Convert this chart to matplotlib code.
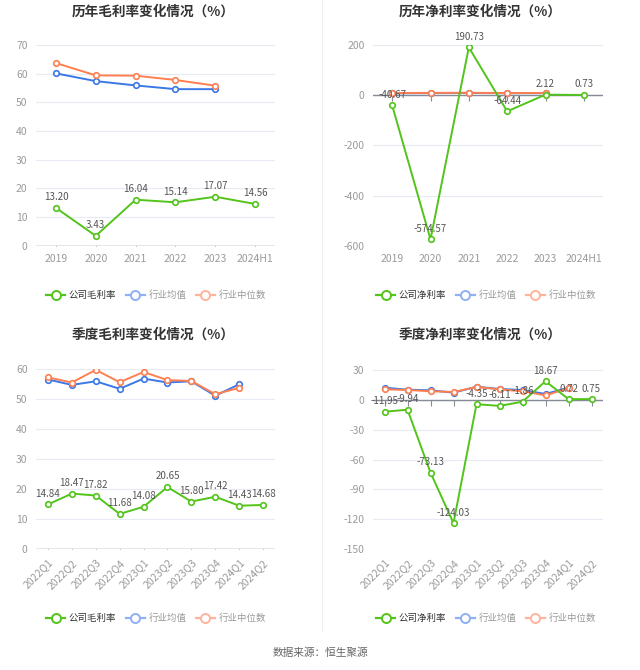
import matplotlib
matplotlib.use("Agg")
import matplotlib.pyplot as plt
from matplotlib.lines import Line2D
import numpy as np

plt.rcParams['font.family'] = ['Noto Sans CJK SC', 'DejaVu Sans']
plt.rcParams['axes.unicode_minus'] = False

# annual data
years = ['2019', '2020', '2021', '2022', '2023', '2024H1']
gross_company = [13.20, 3.43, 16.04, 15.14, 17.07, 14.56]
gross_mean = [60.1, 57.4, 55.9, 54.6, 54.6]
gross_median = [63.7, 59.4, 59.3, 57.8, 55.8]
net_company = [-40.67, -574.57, 190.73, -64.44, 2.12, 0.73]
net_mean = [7.5, 8.3, 9.0, 7.9, 8.2]
net_median = [8.8, 9.1, 9.6, 8.5, 8.9]

# quarterly data
quarters = ['2022Q1', '2022Q2', '2022Q3', '2022Q4', '2023Q1', '2023Q2',
            '2023Q3', '2023Q4', '2024Q1', '2024Q2']
q_gross_company = [14.84, 18.47, 17.82, 11.68, 14.08, 20.65, 15.80, 17.42, 14.43, 14.68]
q_gross_mean = [56.5, 54.7, 55.9, 53.4, 56.8, 55.5, 55.9, 51.1, 54.9]
q_gross_median = [57.2, 55.5, 59.7, 55.6, 59.0, 56.3, 56.0, 51.6, 53.7]
q_net_company = [-11.95, -9.94, -73.13, -124.03, -4.35, -6.11, -1.86, 18.67, 0.72, 0.75]
q_net_mean = [12.2, 10.2, 9.6, 7.2, 13.2, 10.9, 9.9, 5.9, 12.2]
q_net_median = [10.6, 9.9, 8.6, 7.9, 12.9, 10.6, 8.6, 4.5, 11.6]

GREEN = '#52c41a'
BLUE = '#3b78e7'
ORANGE = '#ff7f50'
GRID = '#e6eaf2'
AXIS = '#868b95'
TICK = '#9a9a9a'

W, H = 640, 670
fig = plt.figure(figsize=(W / 100, H / 100), dpi=100)


def px_axes(x0, x1, y0, y1):
    return fig.add_axes([x0 / W, 1 - y1 / H, (x1 - x0) / W, (y1 - y0) / H])


def draw_panel(ax, cats, company, mean, median, yticks, rotate):
    x = np.arange(len(cats))
    ax.set_xlim(-0.5, len(cats) - 0.5)
    ax.set_ylim(yticks[0], yticks[-1])
    ax.set_yticks(yticks)
    ax.set_yticklabels([str(t) for t in yticks])
    for t in yticks:
        ax.axhline(t, color=GRID, lw=0.8, zorder=0)
    for s in ax.spines.values():
        s.set_visible(False)
    ax.tick_params(axis='y', length=0, labelsize=7.5, labelcolor=TICK, pad=6)
    ax.tick_params(axis='x', length=0, labelsize=7.5, labelcolor=TICK, pad=6)
    ax.set_xticks(x)
    if rotate:
        ax.set_xticklabels(cats, rotation=45, ha='right', rotation_mode='anchor')
    else:
        ax.set_xticklabels(cats)
    # category axis sits on zero
    ax.axhline(0, color=AXIS, lw=1, zorder=1)
    ax.plot(x, [0] * len(x), ls='none', marker=3, ms=4, mew=0.8, color=AXIS, zorder=1)

    mk = dict(marker='o', ms=4, mfc='white', mew=1.2)
    ax.plot(x[:len(mean)], mean, color=BLUE, lw=1.4, mec=BLUE, zorder=3, **mk)
    ax.plot(x[:len(median)], median, color=ORANGE, lw=1.4, mec=ORANGE, zorder=4, **mk)
    ax.plot(x, company, color=GREEN, lw=1.4, mec=GREEN, zorder=5, **mk)
    for xi, v in zip(x, company):
        ax.annotate(f'{v:.2f}', (xi, v), xytext=(0, 4), textcoords='offset points',
                    ha='center', va='bottom', fontsize=7, color='#555555', zorder=6)


def draw_legend(cx, cy, first):
    handles = [
        Line2D([], [], color=GREEN, lw=1.6, marker='o', ms=6.5, mfc='white', mec=GREEN, mew=1.4),
        Line2D([], [], color='#8fb0f2', lw=1.6, marker='o', ms=6.5, mfc='white', mec='#8fb0f2', mew=1.4),
        Line2D([], [], color='#ffb49c', lw=1.6, marker='o', ms=6.5, mfc='white', mec='#ffb49c', mew=1.4),
    ]
    leg = fig.legend(handles, [first, '行业均值', '行业中位数'], loc='center',
                     bbox_to_anchor=(cx / W, 1 - cy / H), ncol=3, frameon=False,
                     fontsize=6.8, handlelength=2.0, columnspacing=1.0, handletextpad=0.4)
    for i, t in enumerate(leg.get_texts()):
        t.set_color('#333333' if i == 0 else '#999999')


ax1 = px_axes(36, 275, 45, 245.7)
draw_panel(ax1, years, gross_company, gross_mean, gross_median,
           [0, 10, 20, 30, 40, 50, 60, 70], False)
ax2 = px_axes(373, 603, 45, 245.7)
draw_panel(ax2, years, net_company, net_mean, net_median,
           [-600, -400, -200, 0, 200], False)
ax3 = px_axes(36, 275, 369, 549)
draw_panel(ax3, quarters, q_gross_company, q_gross_mean, q_gross_median,
           [0, 10, 20, 30, 40, 50, 60], True)
ax4 = px_axes(373, 603, 370, 549)
draw_panel(ax4, quarters, q_net_company, q_net_mean, q_net_median,
           [-150, -120, -90, -60, -30, 0, 30], True)

tkw = dict(ha='center', va='center', fontsize=9.8, fontweight='bold', color='#333333')
fig.text(153 / W, 1 - 12 / H, '历年毛利率变化情况（%）', **tkw)
fig.text(480 / W, 1 - 12 / H, '历年净利率变化情况（%）', **tkw)
fig.text(153 / W, 1 - 335 / H, '季度毛利率变化情况（%）', **tkw)
fig.text(480 / W, 1 - 335 / H, '季度净利率变化情况（%）', **tkw)

draw_legend(156, 295, '公司毛利率')
draw_legend(486, 295, '公司净利率')
draw_legend(156, 618, '公司毛利率')
draw_legend(486, 618, '公司净利率')

fig.add_artist(Line2D([322 / W, 322 / W], [1 - 630 / H, 1], color='#eeeeee', lw=0.8))
fig.text(320 / W, 1 - 653 / H, '数据来源：恒生聚源', ha='center', va='center',
         fontsize=7.7, color='#666666')

fig.savefig('out.png', dpi=100)
